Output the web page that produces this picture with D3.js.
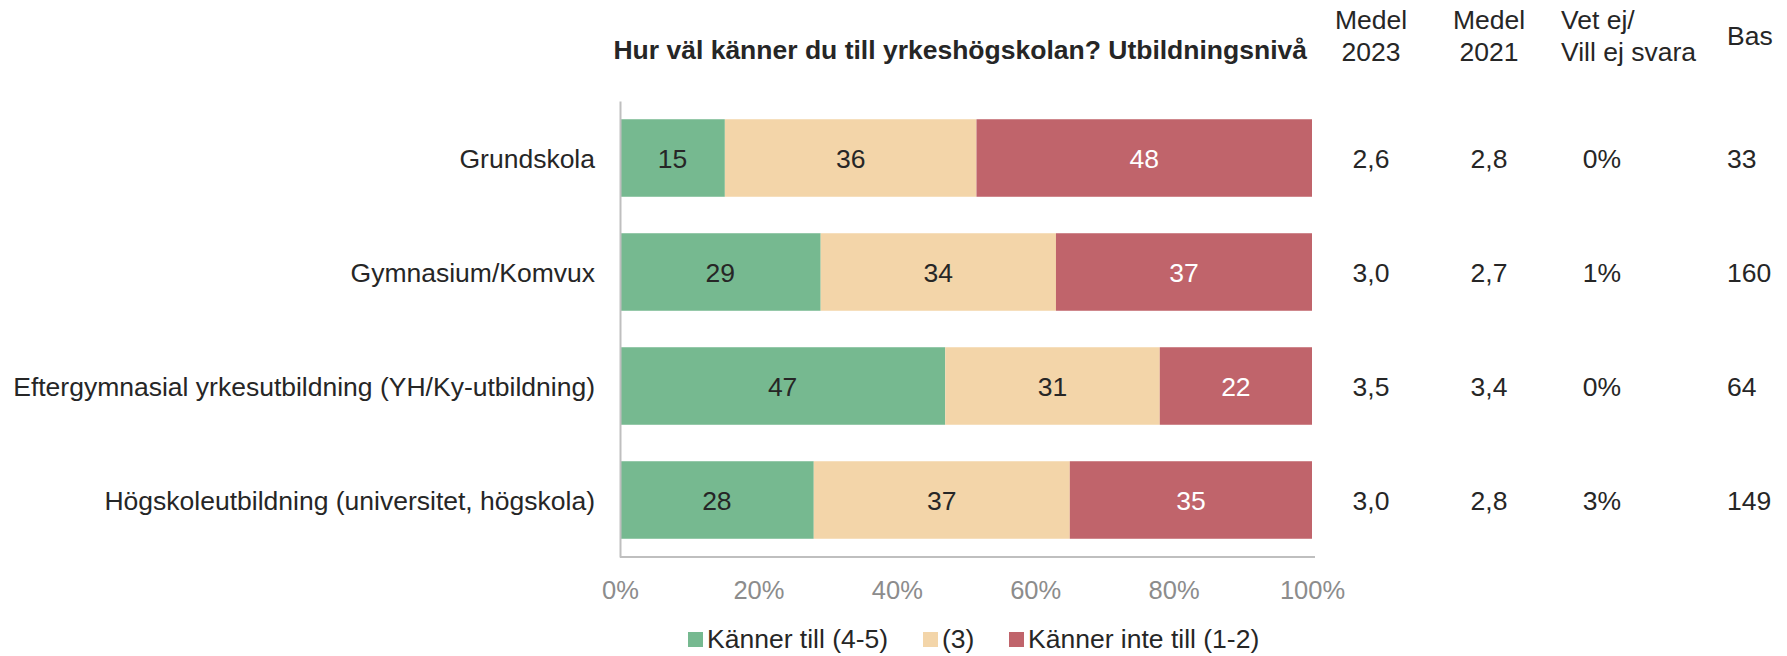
<!DOCTYPE html>
<html lang="sv">
<head>
<meta charset="utf-8">
<title>Hur väl känner du till yrkeshögskolan?</title>
<script src="https://cdn.jsdelivr.net/npm/d3@7"></script>
<style>
  body { margin: 0; background: #fff; }
  svg text { font-family: "Liberation Sans", Arial, sans-serif; }
</style>
</head>
<body>
<script>
var categories = ["Grundskola", "Gymnasium/Komvux",
  "Eftergymnasial yrkesutbildning (YH/Ky-utbildning)",
  "Högskoleutbildning (universitet, högskola)"];
var seriesNames = ["Känner till (4-5)", "(3)", "Känner inte till (1-2)"];
var kannerTill = [15, 29, 47, 28];
var tre = [36, 34, 31, 37];
var kannerInte = [48, 37, 22, 35];
var medel2023 = ["2,6", "3,0", "3,5", "3,0"];
var medel2021 = ["2,8", "2,7", "3,4", "2,8"];
var vetEj = ["0%", "1%", "0%", "3%"];
var bas = ["33", "160", "64", "149"];
var xTicks = [0, 0.2, 0.4, 0.6, 0.8, 1];
var colors = ["#76b990", "#f3d5a9", "#c0646b"];
var labelColors = ["#262626", "#262626", "#ffffff"];

var W = 1787, H = 656, fs = 26.5;
var svg = d3.select("body").append("svg").attr("width", W).attr("height", H);

var x = d3.scaleLinear().domain([0, 1]).range([620, 1312]);
var y = d3.scaleBand().domain(categories).range([101, 557])
  .paddingInner(0.32).paddingOuter(0.16);

var rows = categories.map(function (c, i) {
  return { cat: c, s0: kannerTill[i], s1: tre[i], s2: kannerInte[i] };
});
var stack = d3.stack().keys(["s0", "s1", "s2"]).offset(d3.stackOffsetExpand);
var layers = stack(rows);

// bars
var g = svg.selectAll("g.layer").data(layers).enter().append("g")
  .attr("class", "layer").attr("fill", function (d, i) { return colors[i]; });
g.selectAll("rect").data(function (d) { return d; }).enter().append("rect")
  .attr("x", function (d) { return x(d[0]); })
  .attr("y", function (d) { return y(d.data.cat); })
  .attr("width", function (d) { return x(d[1]) - x(d[0]); })
  .attr("height", y.bandwidth());

// value labels
layers.forEach(function (layer, li) {
  svg.selectAll(null).data(layer).enter().append("text")
    .attr("x", function (d) { return (x(d[0]) + x(d[1])) / 2; })
    .attr("y", function (d) { return y(d.data.cat) + y.bandwidth() / 2; })
    .attr("dy", "0.38em")
    .attr("text-anchor", "middle")
    .attr("font-size", fs)
    .attr("fill", labelColors[li])
    .text(function (d) { return d.data[layer.key]; });
});

// axes
var xAxis = d3.axisBottom(x).tickValues(xTicks).tickSize(0).tickPadding(24)
  .tickFormat(d3.format(".0%"));
var gx = svg.append("g").attr("transform", "translate(0,557)").call(xAxis);
gx.select(".domain").attr("stroke", "#bfbfbf").attr("stroke-width", 2)
  .attr("d", "M620,0H1315");
gx.selectAll("text").attr("font-size", 25.5).attr("fill", "#8c8c8c")
  .style("font-family", "'Liberation Sans', Arial, sans-serif");

var yAxis = d3.axisLeft(y).tickSize(0).tickPadding(25);
var gy = svg.append("g").attr("transform", "translate(620,0)").call(yAxis);
gy.select(".domain").attr("stroke", "#bfbfbf").attr("stroke-width", 2);
gy.selectAll("text").attr("font-size", fs).attr("fill", "#262626")
  .attr("dy", "0.38em")
  .style("font-family", "'Liberation Sans', Arial, sans-serif");

// title
svg.append("text").attr("x", 1307).attr("y", 59)
  .attr("text-anchor", "end").attr("font-size", fs).attr("font-weight", "bold")
  .attr("fill", "#262626")
  .text("Hur väl känner du till yrkeshögskolan? Utbildningsnivå");

// side columns
var cols = [
  { head: ["Medel", "2023"], vals: medel2023, x: 1371, anchor: "middle" },
  { head: ["Medel", "2021"], vals: medel2021, x: 1489, anchor: "middle" },
  { head: ["Vet ej/", "Vill ej svara"], vals: vetEj, x: 1561, vx: 1602, anchor: "start", vanchor: "middle" },
  { head: ["Bas"], vals: bas, x: 1727, anchor: "start", headY: [45] }
];
cols.forEach(function (c) {
  var hy = c.headY || [29, 61];
  c.head.forEach(function (t, i) {
    svg.append("text").attr("x", c.x).attr("y", hy[i])
      .attr("text-anchor", c.anchor).attr("font-size", fs).attr("fill", "#262626")
      .text(t);
  });
  svg.selectAll(null).data(c.vals).enter().append("text")
    .attr("x", c.vx || c.x)
    .attr("y", function (d, i) { return y(categories[i]) + y.bandwidth() / 2; })
    .attr("dy", "0.38em")
    .attr("text-anchor", c.vanchor || c.anchor)
    .attr("font-size", fs).attr("fill", "#262626")
    .text(function (d) { return d; });
});

// legend
var legX = [688, 923, 1009];
var leg = svg.selectAll("g.leg").data(seriesNames).enter().append("g")
  .attr("class", "leg")
  .attr("transform", function (d, i) { return "translate(" + legX[i] + ",639)"; });
leg.append("rect").attr("x", 0).attr("y", -7).attr("width", 15).attr("height", 15)
  .attr("fill", function (d, i) { return colors[i]; });
leg.append("text").attr("x", 19).attr("dy", "0.34em").attr("font-size", fs)
  .attr("fill", "#262626").text(function (d) { return d; });
</script>
</body>
</html>
